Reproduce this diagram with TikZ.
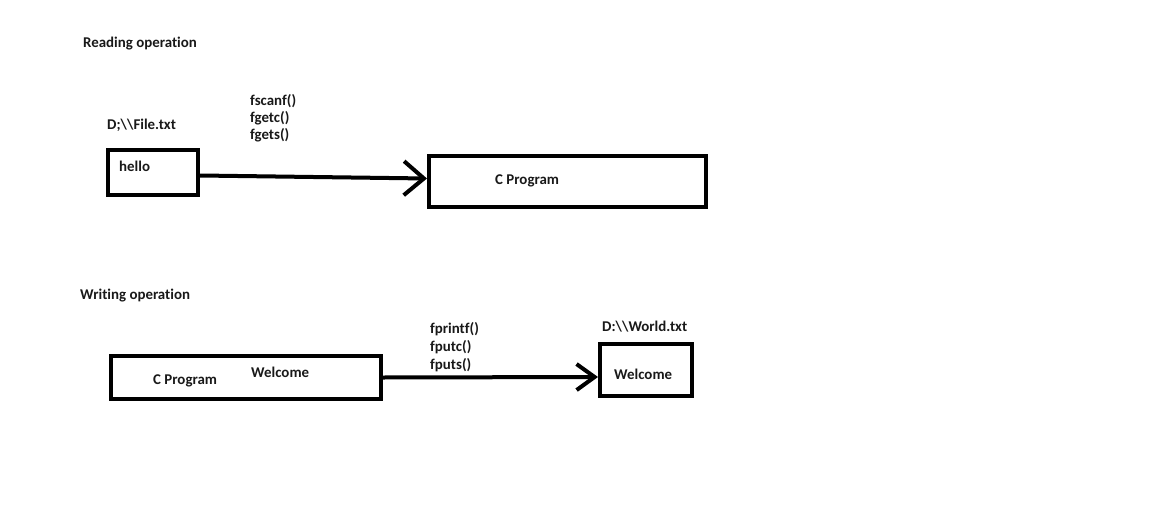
\documentclass[tikz,border=0pt]{standalone}
\usepackage{fontspec}
\setmainfont{Carlito}[Ligatures={NoCommon}]
\usetikzlibrary{arrows.meta}
\begin{document}
\begin{tikzpicture}[x=1pt,y=-1pt,
  lbl/.style={inner sep=0pt,anchor=west,font=\fontsize{14.9pt}{17pt}\selectfont\bfseries,text=black!90},
  fbox/.style={draw,line width=4pt,inner sep=0pt},
  conn/.style={line width=4pt},
]
\useasboundingbox[fill=white] (0,0) rectangle (1170,522);
% Reading
\node[lbl] (rt) at (83,44) {Reading operation};
\node[lbl] (f1) at (107,125) {D;\textbackslash\textbackslash File.txt};
\node[lbl,align=left,anchor=north west] (rf) at (250,94) {fscanf()\\fgetc()\\fgets()};
\node[fbox,minimum width=90pt,minimum height=45pt] (b1) at (153,172.5) {};
\node[lbl] (hello) at (119,166) {hello};
\node[fbox,minimum width=277pt,minimum height=51pt] (b2) at (567.5,181.5) {};
\node[lbl] (cp1) at (495,181) {C Program};
\draw[conn,-{Straight Barb[length=20pt,width=34pt]}] ([yshift=-3pt]b1.east) -- ([yshift=3pt]b2.west);
% Writing
\node[lbl] (wt) at (80,296) {Writing operation};
\node[fbox,minimum width=270pt,minimum height=43pt] (b3) at (246,377.5) {};
\node[lbl] (cp2) at (153,381) {C Program};
\node[lbl] (w1) at (251,372) {Welcome};
\node[lbl,align=left,anchor=north west,font=\fontsize{14.9pt}{18pt}\selectfont\bfseries] (wf) at (430,322) {fprintf()\\fputc()\\fputs()};
\node[lbl] (f2) at (602,327) {D:\textbackslash\textbackslash World.txt};
\node[fbox,minimum width=92pt,minimum height=52pt] (b4) at (646,370) {};
\node[lbl] (w2) at (614,374) {Welcome};
\draw[conn,-{Straight Barb[length=18pt,width=26pt]}] (b3.east) -- ([yshift=-7pt]b4.west);
\end{tikzpicture}
\end{document}
